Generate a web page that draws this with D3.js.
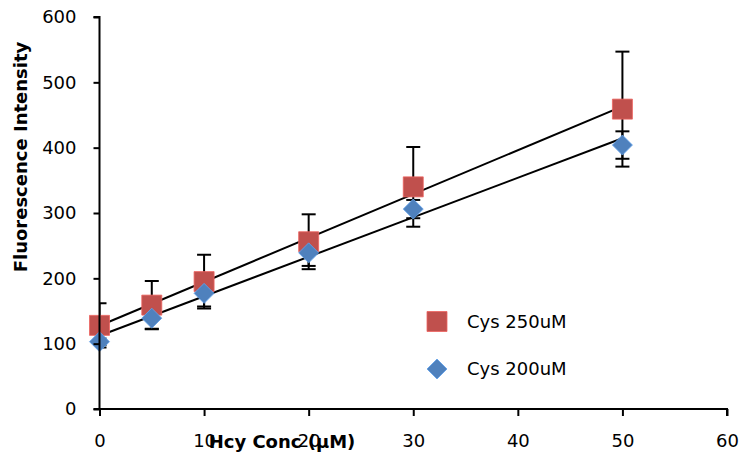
<!DOCTYPE html>
<html>
<head>
<meta charset="utf-8">
<script src="https://cdn.jsdelivr.net/npm/d3@7"></script>
<style>
  html, body { margin: 0; padding: 0; background: #fff; }
  svg { display: block; }
  text { font-family: "DejaVu Sans", "Noto Sans", sans-serif; fill: #000; }
</style>
</head>
<body>
<svg id="chart" width="741" height="454"></svg>
<script>
// Hcy concentration (µM)
const concentrations = [0, 5, 10, 20, 30, 50];

// Mean fluorescence intensity and error for each Cys level
const cys250 = [128, 159, 195, 256, 340, 459];
const cys250Err = [34, 37, 41, 42, 61, 88];
const cys200 = [103, 139, 177, 239, 306, 404];
const cys200Err = [5, 16, 20, 20, 14, 21];

const seriesNames = ["Cys 250uM", "Cys 200uM"];
const xTicks = [0, 10, 20, 30, 40, 50, 60];
const yTicks = [0, 100, 200, 300, 400, 500, 600];

const red = "#C0504D", blue = "#4F81BD";

const svg = d3.select("#chart");
const plotLeft = 99.5, plotRight = 727, plotTop = 17, plotBottom = 409;

const x = d3.scaleLinear().domain([0, 60]).range([plotLeft, plotRight]);
const y = d3.scaleLinear().domain([0, 600]).range([plotBottom, plotTop]);

const series = [
  { name: seriesNames[0], vals: cys250, err: cys250Err, color: red, rot: 0, size: 400 },
  { name: seriesNames[1], vals: cys200, err: cys200Err, color: blue, rot: 45, size: 200 }
];

// Least-squares linear trendline
function fit(xs, ys) {
  const n = xs.length;
  const mx = d3.mean(xs), my = d3.mean(ys);
  let sxy = 0, sxx = 0;
  for (let i = 0; i < n; i++) { sxy += (xs[i] - mx) * (ys[i] - my); sxx += (xs[i] - mx) ** 2; }
  const b = sxy / sxx;
  return { a: my - b * mx, b };
}

svg.append("defs").append("clipPath").attr("id", "plot")
  .append("rect").attr("x", plotLeft).attr("y", 0).attr("width", plotRight - plotLeft + 10).attr("height", plotBottom);

// Error bars
const eb = svg.append("g").attr("clip-path", "url(#plot)")
  .attr("stroke", "#000").attr("stroke-width", 2);
series.forEach(s => {
  concentrations.forEach((c, i) => {
    const cx = x(c), hi = y(s.vals[i] + s.err[i]), lo = y(s.vals[i] - s.err[i]);
    eb.append("line").attr("x1", cx).attr("x2", cx).attr("y1", hi).attr("y2", lo);
    eb.append("line").attr("x1", cx - 7).attr("x2", cx + 7).attr("y1", hi).attr("y2", hi);
    eb.append("line").attr("x1", cx - 7).attr("x2", cx + 7).attr("y1", lo).attr("y2", lo);
  });
});

// Trendlines
series.forEach(s => {
  const f = fit(concentrations, s.vals);
  const x0 = d3.min(concentrations), x1 = d3.max(concentrations);
  svg.append("line")
    .attr("x1", x(x0)).attr("y1", y(f.a + f.b * x0))
    .attr("x2", x(x1)).attr("y2", y(f.a + f.b * x1))
    .attr("stroke", "#000").attr("stroke-width", 2);
});

// Markers: square, and a square turned 45° for the diamond
function marker(sel, s) {
  sel.attr("d", d3.symbol().type(d3.symbolSquare).size(s.size))
    .attr("fill", s.color)
    .attr("stroke", d3.color(s.color).brighter(0.6))
    .attr("stroke-width", 0.8);
}
series.forEach(s => {
  svg.append("g").selectAll("path").data(s.vals).join("path")
    .attr("transform", (d, i) => `translate(${x(concentrations[i])},${y(d)}) rotate(${s.rot})`)
    .call(marker, s);
});

// Axes
const yAxis = svg.append("g").attr("transform", `translate(${plotLeft},0)`)
  .call(d3.axisLeft(y).tickValues(yTicks).tickSize(6).tickPadding(17).tickFormat(d3.format("d")));
const xAxis = svg.append("g").attr("transform", `translate(0,${plotBottom})`)
  .call(d3.axisBottom(x).tickValues(xTicks).tickSize(7).tickPadding(18).tickFormat(d3.format("d")));
[yAxis, xAxis].forEach(g => {
  g.select(".domain").attr("stroke", "#000").attr("stroke-width", 2);
  g.selectAll(".tick line").attr("stroke", "#000").attr("stroke-width", 2);
  g.selectAll(".tick text").attr("font-size", 18).attr("font-family", "DejaVu Sans, sans-serif");
});
yAxis.select(".domain").attr("d", `M-6,${plotTop}H0V${plotBottom}`);
xAxis.select(".domain").attr("d", `M${plotLeft - 6},0H${plotRight}V7`);

// Axis titles
svg.append("text")
  .attr("transform", `translate(27,157) rotate(-90)`)
  .attr("text-anchor", "middle")
  .attr("font-size", 18).attr("font-weight", "bold")
  .text("Fluorescence Intensity");
svg.append("text")
  .attr("x", 282).attr("y", 448)
  .attr("text-anchor", "middle")
  .attr("font-size", 18).attr("font-weight", "bold")
  .text("Hcy Conc (μM)");

// Legend
const legend = svg.append("g");
series.forEach((s, i) => {
  const ly = 321.5 + i * 47.5;
  legend.append("path")
    .attr("transform", `translate(437,${ly}) rotate(${s.rot})`)
    .call(marker, s);
  legend.append("text")
    .attr("x", 467).attr("y", ly + 6)
    .attr("font-size", 18)
    .text(s.name);
});
</script>
</body>
</html>
